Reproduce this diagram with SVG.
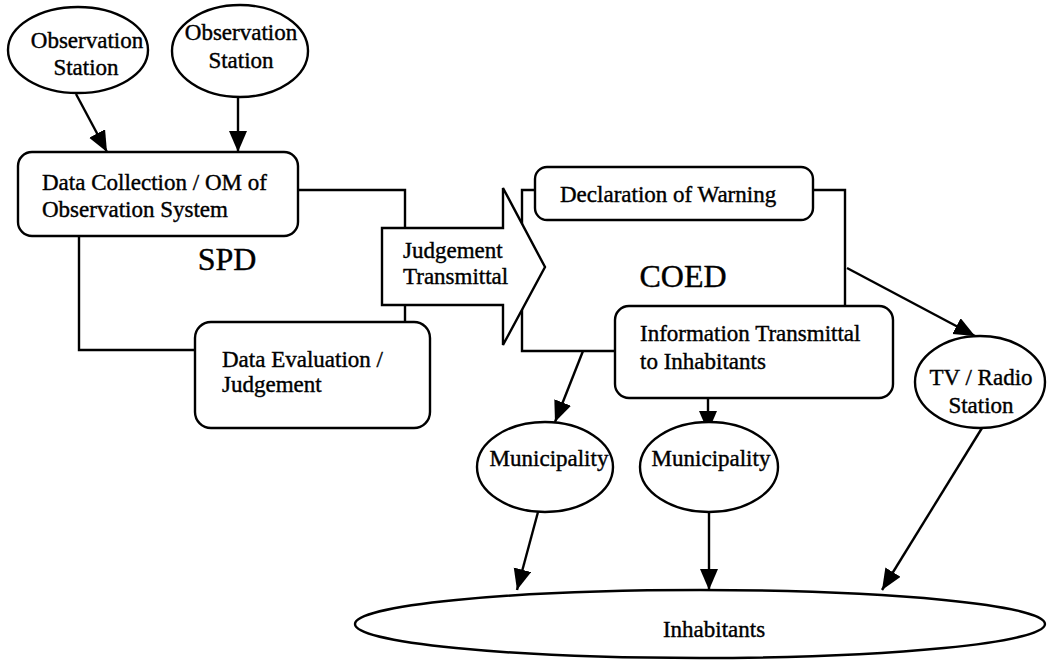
<svg xmlns="http://www.w3.org/2000/svg" width="1048" height="660" viewBox="0 0 1048 660">
<defs>
<marker id="ah" markerUnits="userSpaceOnUse" markerWidth="24" markerHeight="20" refX="21" refY="9" orient="auto">
<path d="M0,0 L21,9 L0,18 Z" fill="#000"/>
</marker>
<style>
.s{fill:#fff;stroke:#000;stroke-width:2.4}
.t{font-family:"Liberation Serif","Times New Roman",serif;font-size:23px;fill:#000;stroke:#000;stroke-width:0.4}
.c{text-anchor:middle}
.big{font-size:32px}
.ln{fill:none;stroke:#000;stroke-width:2.4}
.ar{fill:none;stroke:#000;stroke-width:2.4;marker-end:url(#ah)}
</style>
</defs>
<rect width="1048" height="660" fill="#fff"/>
<g id="connectors">
<path class="ln" d="M298,190 H405 V228"/>
<path class="ln" d="M405,305 V322"/>
<path class="ln" d="M79,236 V350 H195"/>
<path class="ln" d="M535,190 H522 V351 H615"/>
<path class="ln" d="M813,190 H845 V306"/>
<path class="ar" d="M76,94 L107,152"/>
<path class="ar" d="M238,97 V152"/>
<path class="ar" d="M847,268 L975,336"/>
<path class="ar" d="M583,351 L555,422"/>
<path class="ar" d="M708,398 V432"/>
<path class="ar" d="M538,512 L517,590"/>
<path class="ar" d="M709,512 V590"/>
<path class="ar" d="M982,428 L882,590"/>
</g>
<g id="obs1"><ellipse class="s" cx="78" cy="50" rx="70" ry="43"/>
<text class="t c" x="87" y="48">Observation</text><text class="t c" x="86" y="75">Station</text></g>
<g id="obs2"><ellipse class="s" cx="240" cy="51" rx="68" ry="46"/>
<text class="t c" x="241" y="40">Observation</text><text class="t c" x="241" y="68">Station</text></g>
<g id="datacollection"><rect class="s" x="18" y="152" width="280" height="84" rx="14"/>
<text class="t" x="42" y="190">Data Collection / OM of</text><text class="t" x="42" y="217">Observation System</text></g>
<g id="spd"><text class="t c big" x="227" y="270">SPD</text></g>
<g id="dataeval"><rect class="s" x="195" y="322" width="235" height="106" rx="16"/>
<text class="t" x="222" y="367">Data Evaluation /</text><text class="t" x="222" y="392">Judgement</text></g>
<g id="judgement"><path class="s" d="M382,228 H503 V188 L545,267 L503,345 V305 H382 Z"/>
<text class="t" x="403" y="258">Judgement</text><text class="t" x="403" y="284">Transmittal</text></g>
<g id="declaration"><rect class="s" x="535" y="167" width="278" height="53" rx="12"/>
<text class="t" x="560" y="202">Declaration of Warning</text></g>
<g id="coed"><text class="t c big" x="683" y="287">COED</text></g>
<g id="info"><rect class="s" x="615" y="306" width="278" height="92" rx="14"/>
<text class="t" x="640" y="341">Information Transmittal</text><text class="t" x="640" y="369">to Inhabitants</text></g>
<g id="muni1"><ellipse class="s" cx="545" cy="467" rx="68" ry="45"/>
<text class="t c" x="549" y="466">Municipality</text></g>
<g id="muni2"><ellipse class="s" cx="709" cy="467" rx="69" ry="45"/>
<text class="t c" x="711" y="466">Municipality</text></g>
<g id="tv"><ellipse class="s" cx="980" cy="382" rx="65" ry="46"/>
<text class="t c" x="981" y="385">TV / Radio</text><text class="t c" x="981" y="413">Station</text></g>
<g id="inhabitants"><ellipse class="s" cx="700" cy="624" rx="345" ry="34"/>
<text class="t c" x="714" y="637">Inhabitants</text></g>
</svg>
